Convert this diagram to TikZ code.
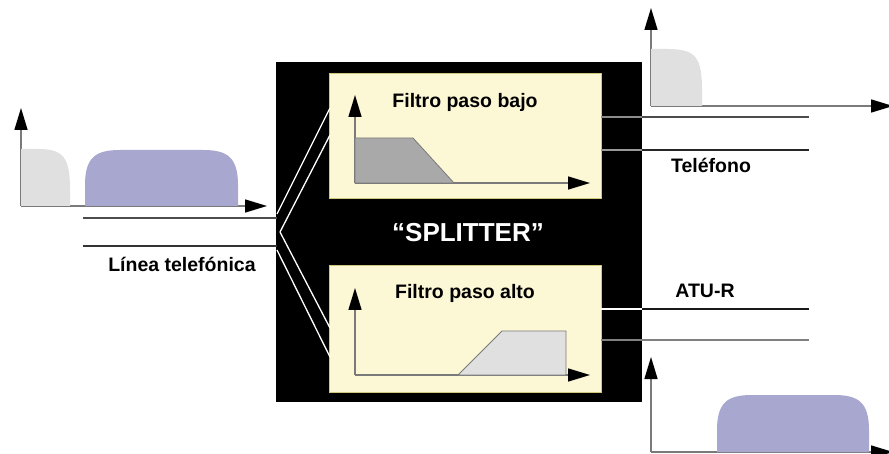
\documentclass[tikz,border=0pt]{standalone}
\usepackage{fontspec}
\setmainfont{Liberation Sans}
\usetikzlibrary{arrows.meta}

\definecolor{boxyellow}{HTML}{FCF7D4}
\definecolor{boxedge}{HTML}{D2C67A}
\definecolor{voiceband}{HTML}{E0E0E0}
\definecolor{databand}{HTML}{A7A7CF}
\definecolor{lowpass}{HTML}{A9A9A9}
\definecolor{axisgray}{HTML}{7A7A7A}

\tikzset{
  axis/.style={draw=axisgray, line width=1.5pt, -{Triangle[length=22pt,width=13pt,color=black]}},
  filterbox/.style={draw=boxedge, line width=1pt, fill=boxyellow, minimum width=272pt, minimum height=125pt, inner sep=0pt, anchor=north west},
  label/.style={font=\bfseries\fontsize{19.5}{23}\selectfont, inner sep=0pt},
  wire/.style={line width=1.5pt},
  inwire/.style={draw=white, line width=1.3pt},
}

\begin{document}
\begin{tikzpicture}[x=1pt, y=-1pt]
\useasboundingbox (0,0) rectangle (889,454);

% splitter housing and the two filters
\node[fill=black, minimum width=366pt, minimum height=340pt, inner sep=0pt, anchor=north west] (split) at (276,62) {};
\node[filterbox] (lp) at (329,73) {};
\node[filterbox, minimum height=127pt] (hp) at (329,265) {};
\node[label, font=\bfseries\fontsize{26}{30}\selectfont, text=white] (title) at (468,233) {“SPLITTER”};
\node[label] (lptxt) at (465,102) {Filtro paso bajo};
\node[label] (hptxt) at (465,293) {Filtro paso alto};

% low-pass response
\coordinate (lpo) at (355,183);
\coordinate (lpy) at (355,95);
\coordinate (lpx) at (590,183);
\draw[axis] (lpo) -- (lpy);
\draw[axis] (lpo) -- (lpx);
\fill[lowpass, draw=axisgray, line width=0.8pt] (355,183) -- (355,138) -- (413,138) -- (454,183) -- cycle;

% high-pass response
\coordinate (hpo) at (355,375);
\coordinate (hpy) at (355,288);
\coordinate (hpx) at (590,375);
\draw[axis] (hpo) -- (hpy);
\draw[axis] (hpo) -- (hpx);
\fill[voiceband, draw=axisgray, line width=0.8pt] (458,375) -- (502,331) -- (566,331) -- (566,375) -- cycle;

% telephone line into the splitter
\coordinate (la1) at (83,218);
\coordinate (la2) at (83,246);
\coordinate (lb1) at (277,218);
\coordinate (lb2) at (277,246);
\draw[wire, draw=black!70] (la1) -- (lb1);
\draw[wire, draw=black!80] (la2) -- (lb2);
\node[label] (linea) at (182,264) {Línea telefónica};

% internal branching to both filters
\coordinate (s1) at (277,214);
\coordinate (s2) at (280,232);
\coordinate (s3) at (277,250);
\coordinate (lp1) at (330,108);
\coordinate (lp2) at (330,135);
\coordinate (hp1) at (330,328);
\coordinate (hp2) at (330,357);
\draw[inwire] (s1) -- (lp1);
\draw[inwire] (s2) -- (lp2);
\draw[inwire] (s2) -- (hp1);
\draw[inwire] (s3) -- (hp2);

% telephone outputs
\coordinate (t1a) at (601,117);
\coordinate (t1b) at (642,117);
\coordinate (t1c) at (809,117);
\coordinate (t2a) at (601,150);
\coordinate (t2b) at (642,150);
\coordinate (t2c) at (809,150);
\draw[wire, draw=black!45] (t1a) -- (t1b);
\draw[wire, draw=black!70] (t1b) -- (t1c);
\draw[wire, draw=black!40] (t2a) -- (t2b);
\draw[wire, draw=black!85] (t2b) -- (t2c);
\node[label] (tel) at (711,165) {Teléfono};

% ATU-R outputs
\coordinate (a1a) at (601,309);
\coordinate (a1b) at (642,309);
\coordinate (a1c) at (809,309);
\coordinate (a2a) at (601,340);
\coordinate (a2b) at (642,340);
\coordinate (a2c) at (809,340);
\draw[wire, draw=white] (a1a) -- (a1b);
\draw[wire, draw=black!90] (a1b) -- (a1c);
\draw[wire, draw=black!50] (a2a) -- (a2b);
\draw[wire, draw=black!50] (a2b) -- (a2c);
\node[label] (atur) at (705,291) {ATU-R};

% spectrum on the line: voice band and data band
\coordinate (g1o) at (21,206);
\coordinate (g1y) at (21,108);
\coordinate (g1x) at (267,206);
\draw[axis] (g1o) -- (g1y);
\draw[axis] (g1o) -- (g1x);
\fill[voiceband] (21,206) -- (21,149) -- (38,149) .. controls (64,149) and (70,158) .. (70,190) -- (70,206) -- cycle;
\fill[databand] (85,206) -- (85,185) .. controls (85,157) and (96,150) .. (120,150) -- (203,150) .. controls (227,150) and (238,157) .. (238,185) -- (238,206) -- cycle;

% spectrum at the telephone output
\coordinate (g2o) at (651,106);
\coordinate (g2y) at (651,8);
\coordinate (g2x) at (893,106);
\draw[axis] (g2o) -- (g2y);
\draw[axis] (g2o) -- (g2x);
\fill[voiceband] (651,106) -- (651,49) -- (668,49) .. controls (696,49) and (702,58) .. (702,90) -- (702,106) -- cycle;

% spectrum at the ATU-R output
\coordinate (g3o) at (651,452);
\coordinate (g3y) at (651,357);
\coordinate (g3x) at (893,452);
\draw[axis] (g3o) -- (g3y);
\draw[axis] (g3o) -- (g3x);
\fill[databand] (717,452) -- (717,430) .. controls (717,402) and (728,395) .. (752,395) -- (834,395) .. controls (858,395) and (869,402) .. (869,430) -- (869,452) -- cycle;
\end{tikzpicture}
\end{document}
